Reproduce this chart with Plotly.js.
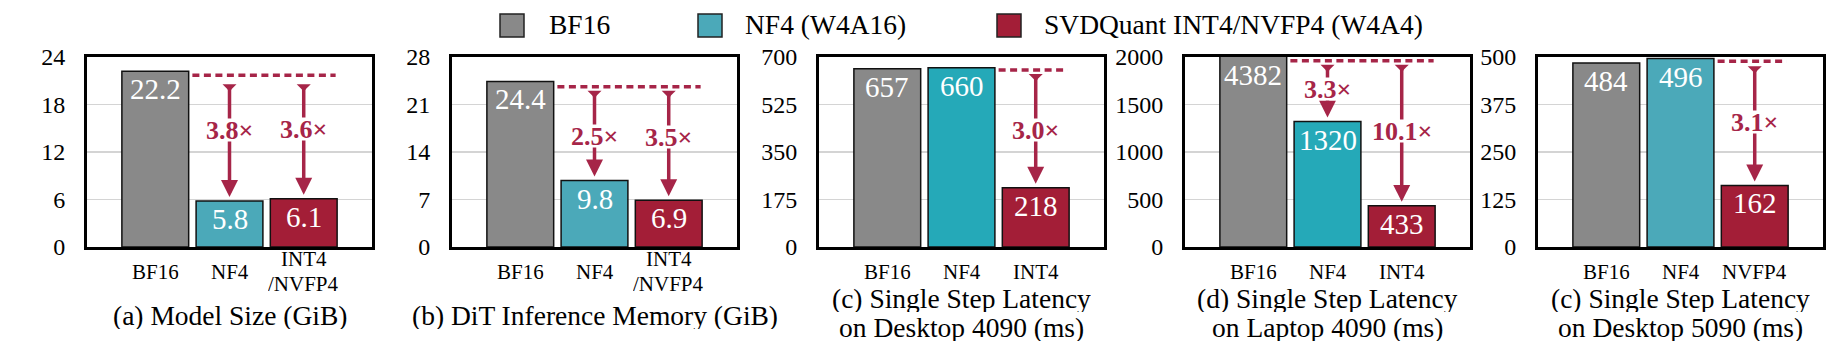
<!DOCTYPE html>
<html>
<head>
<meta charset="utf-8">
<script src="https://cdn.plot.ly/plotly-3.0.1.min.js"></script>
<style>
html, body { margin: 0; padding: 0; background: #fff; }
#chart { width: 1846px; height: 362px; }
</style>
</head>
<body>
<div id="chart"></div>
<script>
// ---------------- data ----------------
const legendLabels = ['BF16', 'NF4 (W4A16)', 'SVDQuant INT4/NVFP4 (W4A4)'];

const titles_a = ['(a) Model Size (GiB)'];
const titles_b = ['(b) DiT Inference Memory (GiB)'];
const titles_c = ['(c) Single Step Latency', 'on Desktop 4090 (ms)'];
const titles_d = ['(d) Single Step Latency', 'on Laptop 4090 (ms)'];
const titles_e = ['(c) Single Step Latency', 'on Desktop 5090 (ms)'];

const cats_a = ['BF16', 'NF4', 'INT4<br>/NVFP4'];
const cats_b = ['BF16', 'NF4', 'INT4<br>/NVFP4'];
const cats_c = ['BF16', 'NF4', 'INT4'];
const cats_d = ['BF16', 'NF4', 'INT4'];
const cats_e = ['BF16', 'NF4', 'NVFP4'];

const values_a = [22.2, 5.8, 6.1];
const values_b = [24.4, 9.8, 6.9];
const values_c = [657, 660, 218];
const values_d = [4382, 1320, 433];
const values_e = [484, 496, 162];

// level of the dashed reference line
const refLine = [21.7, 23.6, 652, 1960, 489];

// speed-up / reduction arrows: target category index and label
const arrowTargets_a = [1, 2];  const arrowLabels_a = ['3.8×', '3.6×'];
const arrowTargets_b = [1, 2];  const arrowLabels_b = ['2.5×', '3.5×'];
const arrowTargets_c = [2];     const arrowLabels_c = ['3.0×'];
const arrowTargets_d = [1, 2];  const arrowLabels_d = ['3.3×', '10.1×'];
const arrowTargets_e = [2];     const arrowLabels_e = ['3.1×'];

const yMax = [24, 28, 700, 2000, 500];
const yTicks_a = [0, 6, 12, 18, 24];
const yTicks_b = [0, 7, 14, 21, 28];
const yTicks_c = [0, 175, 350, 525, 700];
const yTicks_d = [0, 500, 1000, 1500, 2000];
const yTicks_e = [0, 125, 250, 375, 500];

// ---------------- style / layout ----------------
const W = 1846, H = 362;
const FONT = 'Liberation Serif, Times New Roman, serif';
const GRAY = '#898989', TEAL = '#4ba9b9', TEAL2 = '#25a9b8', RED = '#a31e37';
const ARROW = '#a62548';
const plotLeft = [87, 452, 819, 1185, 1538];
const plotW = 285, plotTop = 57, plotBottom = 247;
const tailGap = [9, 4, 4, 4, 5];
const labelShift = [[8, 8], [-2, 7], [-1], [2, 2], [1]];
const barColors = [
  [GRAY, TEAL, RED], [GRAY, TEAL, RED], [GRAY, TEAL2, RED], [GRAY, TEAL2, RED], [GRAY, TEAL, RED]
];

const px2x = p => p / W;
const py2y = p => 1 - p / H;

const panels = [
  {titles: titles_a, cats: cats_a, vals: values_a, targets: arrowTargets_a, labels: arrowLabels_a, ticks: yTicks_a},
  {titles: titles_b, cats: cats_b, vals: values_b, targets: arrowTargets_b, labels: arrowLabels_b, ticks: yTicks_b},
  {titles: titles_c, cats: cats_c, vals: values_c, targets: arrowTargets_c, labels: arrowLabels_c, ticks: yTicks_c},
  {titles: titles_d, cats: cats_d, vals: values_d, targets: arrowTargets_d, labels: arrowLabels_d, ticks: yTicks_d},
  {titles: titles_e, cats: cats_e, vals: values_e, targets: arrowTargets_e, labels: arrowLabels_e, ticks: yTicks_e}
];

const traces = [];
const shapes = [];
const layout = {
  width: W, height: H,
  margin: {l: 0, r: 0, t: 0, b: 0, pad: 0},
  paper_bgcolor: '#fff', plot_bgcolor: '#fff',
  showlegend: false,
  font: {family: FONT, color: '#000'},
  bargap: 0.1
};

const arrowAnns = [], tailAnns = [], labelAnns = [];

panels.forEach((p, k) => {
  const s = k === 0 ? '' : String(k + 1);
  const xr = 'x' + s, yr = 'y' + s;
  const L = plotLeft[k];

  layout['xaxis' + s] = {
    domain: [px2x(L), px2x(L + plotW)], anchor: yr,
    type: 'category', range: [-0.92, 2.92],
    showticklabels: false, ticks: '', showgrid: false, zeroline: false,
    showline: true, mirror: true, linecolor: '#000', linewidth: 3, fixedrange: true
  };
  layout['yaxis' + s] = {
    domain: [py2y(plotBottom), py2y(plotTop)], anchor: xr,
    range: [0, yMax[k]], tickmode: 'array', tickvals: p.ticks, ticktext: p.ticks.map(String),
    tickfont: {family: FONT, size: 24, color: '#000'},
    showgrid: true, gridcolor: '#d4d4d4', gridwidth: 1.5, zeroline: false,
    showline: true, mirror: true, linecolor: '#000', linewidth: 3, ticks: '',
    ticklabelstandoff: 14, fixedrange: true
  };

  traces.push({
    type: 'bar', x: p.cats, y: p.vals, xaxis: xr, yaxis: yr, width: 0.9,
    marker: {color: barColors[k], line: {color: '#111', width: 1.5}},
    hoverinfo: 'skip', showlegend: false, cliponaxis: true
  });

  const ref = refLine[k];
  shapes.push({
    type: 'line', xref: xr, yref: yr,
    x0: p.targets[0] - 0.5, x1: p.cats.length - 1 + 0.43, y0: ref, y1: ref,
    line: {color: ARROW, width: 3.5, dash: '7px,4.5px'}
  });

  p.targets.forEach((t, j) => {
    // tail (small flat-topped triangle)
    tailAnns.push({
      xref: xr, yref: yr, x: t, y: ref, text: '', showarrow: true,
      ax: 0, ay: -7, arrowhead: 1, arrowsize: 0.667, arrowwidth: 3.5, arrowcolor: ARROW,
      standoff: 0, yshift: -(tailGap[k] + 7)
    });
    // main arrow
    arrowAnns.push({
      xref: xr, yref: yr, x: t, y: p.vals[t], axref: xr, ayref: yr, ax: t, ay: ref,
      text: '', showarrow: true, arrowhead: 2, arrowsize: 0.97, arrowwidth: 3.5, arrowcolor: ARROW,
      standoff: 4, startstandoff: tailGap[k] + 3, startarrowhead: 0
    });
    // label
    labelAnns.push({
      xref: xr, yref: yr, x: t, y: (ref + p.vals[t]) / 2, text: '<b>' + p.labels[j] + '</b>',
      showarrow: false, font: {family: FONT, size: 26, color: ARROW},
      bgcolor: '#fff', height: 22, borderpad: 0, yshift: labelShift[k][j]
    });
  });

  // value labels inside bars
  p.vals.forEach((v, i) => {
    labelAnns.push({
      xref: xr, yref: yr, x: i, y: Math.min(v, yMax[k]), text: String(v), showarrow: false,
      font: {family: FONT, size: 29, color: '#fff'}, yanchor: 'middle', yshift: -18
    });
  });

  // category labels
  p.cats.forEach((c, i) => {
    const lines = c.split('<br>');
    const ys = lines.length === 1 ? [271] : [258.5, 283];
    lines.forEach((ln, j) => {
      labelAnns.push({
        xref: xr, yref: 'paper', x: i, y: py2y(ys[j]), text: ln, showarrow: false,
        font: {family: FONT, size: 21, color: '#000'}, xanchor: 'center', yanchor: 'middle',
        height: 19, borderpad: 0
      });
    });
  });

  // panel titles
  const tys = p.titles.length === 1 ? [315] : [298, 327];
  p.titles.forEach((tl, j) => {
    labelAnns.push({
      xref: 'paper', yref: 'paper', x: px2x(L + plotW / 2), y: py2y(tys[j]), text: tl,
      showarrow: false, font: {family: FONT, size: 27.5, color: '#000'},
      xanchor: 'center', yanchor: 'middle', height: 28, borderpad: 0
    });
  });
});

// manual legend (large swatches)
const legSwatchX = [500, 698, 997];
const legTextX = [547, 743, 1042];
const legColors = [GRAY, TEAL, RED];
legendLabels.forEach((lab, i) => {
  shapes.push({
    type: 'rect', xref: 'paper', yref: 'paper',
    x0: px2x(legSwatchX[i]), x1: px2x(legSwatchX[i] + 24), y0: py2y(37), y1: py2y(14),
    fillcolor: legColors[i], line: {color: '#222', width: 1.5}
  });
  labelAnns.push({
    xref: 'paper', yref: 'paper', x: px2x(legTextX[i]), y: py2y(25), text: lab, showarrow: false,
    font: {family: FONT, size: 27.5, color: '#000'}, xanchor: 'left', yanchor: 'middle'
  });
});

layout.shapes = shapes;
layout.annotations = tailAnns.concat(arrowAnns, labelAnns);

Plotly.newPlot('chart', traces, layout, {displayModeBar: false, staticPlot: true});
</script>
</body>
</html>
